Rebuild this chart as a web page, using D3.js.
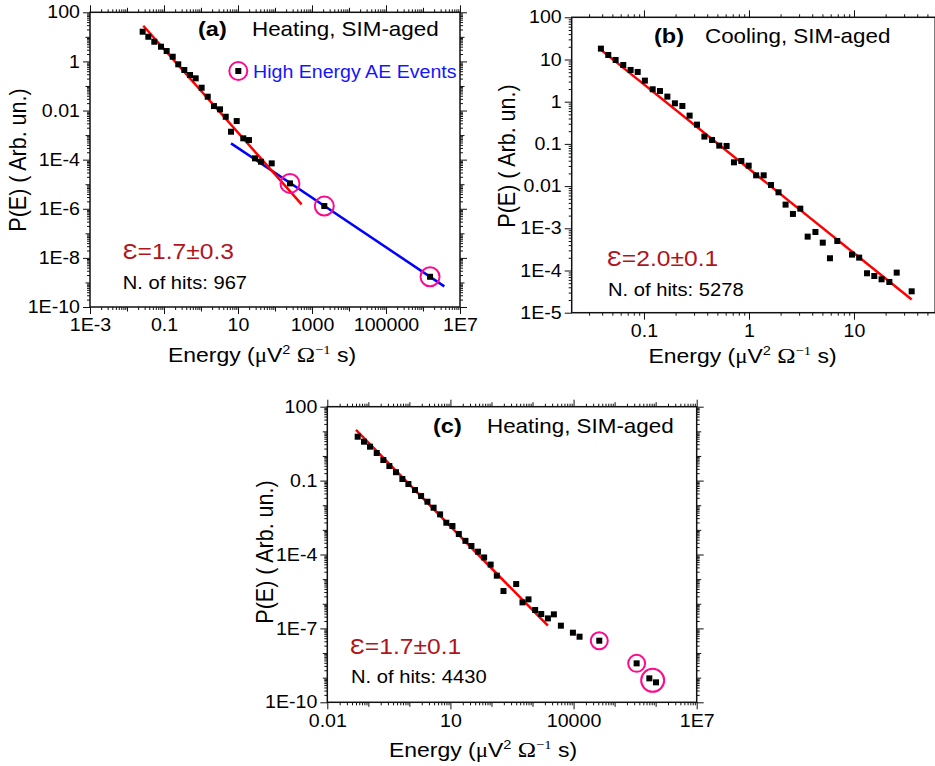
<!DOCTYPE html>
<html>
<head>
<meta charset="utf-8">
<script src="https://cdn.jsdelivr.net/npm/d3@7"></script>
<style>
  html, body { margin: 0; padding: 0; background: #fff; }
  svg { display: block; font-family: "Liberation Sans", Arial, sans-serif; }
</style>
</head>
<body>
<svg id="chart" width="935" height="766"></svg>
<script>
// ---------- Panel (a): heating, SIM-aged ----------
const energyA = [0.0265, 0.0377, 0.0547, 0.0830, 0.118, 0.172, 0.243, 0.354, 0.505, 0.719,
  1.04, 1.52, 2.24, 3.27, 4.66, 6.47, 9.23, 13.9, 19.8, 28.8, 41.9, 81.5];
const probA = [16.2, 10.1, 6.34, 3.97, 2.65, 1.55, 0.762, 0.447, 0.279, 0.205,
  0.0849, 0.0365, 0.0152, 0.0112, 0.00558, 0.00137, 0.00373, 0.000738, 0.000628, 0.000113, 0.0000822, 0.0000706];
const highEnergyA = [254, 2150, 1.55e6];
const highProbA = [1.08e-5, 1.29e-6, 1.70e-9];
const fitA = { exponent: 1.7, error: 0.3, amplitude: 0.0635, eMin: 0.0276, eMax: 524 };
const fitHighA = { exponent: 1.01, amplitude: 0.00304, eMin: 6.47, eMax: 3.77e6 };
const hitsA = 967;

// ---------- Panel (b): cooling, SIM-aged ----------
const energyB = [0.0389, 0.0457, 0.0537, 0.0635, 0.0746, 0.0871, 0.102, 0.121, 0.142, 0.167,
  0.197, 0.232, 0.272, 0.320, 0.376, 0.445, 0.521, 0.612, 0.719, 0.845,
  0.993, 1.17, 1.38, 1.62, 1.91, 2.23, 2.62, 3.08, 3.62, 4.29,
  5.04, 5.90, 6.93, 9.57, 11.2, 13.3, 15.6, 18.3, 21.7, 25.5, 35.4];
const probB = [18.1, 12.8, 9.75, 7.41, 5.65, 5.07, 3.16, 1.97, 1.79, 1.32,
  0.916, 0.792, 0.468, 0.286, 0.149, 0.124, 0.0910, 0.0893, 0.0366, 0.0394,
  0.0305, 0.0180, 0.0180, 0.0106, 0.00713, 0.00364, 0.00219, 0.00292, 0.000635, 0.000818,
  0.000457, 0.000195, 0.000501, 0.000238, 0.000202, 0.0000859, 0.0000741, 0.0000618, 0.0000535, 0.0000891, 0.0000321];
const fitB = { exponent: 2.0, error: 0.1, amplitude: 0.0257, eMin: 0.0395, eMax: 35.4 };
const hitsB = 5278;

// ---------- Panel (c): heating, SIM-aged ----------
const energyC = [0.0550, 0.0783, 0.110, 0.160, 0.232, 0.325, 0.471, 0.675, 0.946, 1.37,
  1.93, 2.75, 3.89, 5.60, 7.94, 11.2, 16.0, 23.2, 32.5, 46.8,
  66.2, 95.5, 135, 196, 400, 570, 798, 1160, 1630, 2370, 3310, 4910, 9640, 14000];
const probC = [6.05, 3.79, 2.38, 1.32, 0.684, 0.390, 0.219, 0.116, 0.0726, 0.0414,
  0.0236, 0.0139, 0.00794, 0.00426, 0.00195, 0.00143, 0.000678, 0.000358, 0.000221, 0.000130,
  0.0000759, 0.0000389, 0.0000138, 3.29e-6, 6.32e-6, 1.14e-6, 1.51e-6, 5.57e-7, 3.83e-7, 2.55e-7,
  3.72e-7, 1.29e-7, 6.70e-8, 4.60e-8];
const highEnergyC = [42300, 344000, 701000, 1.02e6];
const highProbC = [3.17e-8, 3.81e-9, 9.38e-10, 6.46e-10];
const circleGroupsC = [[0], [1], [2, 3]];
const fitC = { exponent: 1.7, error: 0.1, amplitude: 0.0698, eMin: 0.05, eMax: 2366 };
const hitsC = 4430;

// ---------- shared styling ----------
const SX = 1.12;                 // horizontal glyph stretch
const TICK_FONT = 17.5;
const DARK_RED = "#b0141c";
const PINK = "#ff0a8c";
const SERIF = "'Liberation Serif', 'Times New Roman', serif";

const svg = d3.select("#chart");

function addText(g, x, y, str, o = {}) {
  return g.append("text")
    .attr("transform", `translate(${x},${y}) scale(${o.k ?? SX},1)`)
    .attr("font-size", o.size || 18)
    .attr("font-weight", o.weight || "normal")
    .attr("fill", o.fill || "#000")
    .attr("text-anchor", o.anchor || "start")
    .text(str);
}

function tickLabel(v) {
  const e = Math.round(Math.log10(v));
  if (e <= -3 || e >= 6) return "1E" + e;
  return String(Math.pow(10, e));
}

function decades(s) {
  const [a, b] = s.domain();
  return d3.range(Math.ceil(Math.log10(a) - 1e-9), Math.floor(Math.log10(b) + 1e-9) + 1);
}
function minorValues(s) {
  const [a, b] = s.domain();
  const out = [];
  for (let d = Math.floor(Math.log10(a)); d <= Math.floor(Math.log10(b)); d++) {
    for (let m = 2; m <= 9; m++) {
      const v = m * Math.pow(10, d);
      if (v > a * 1.0001 && v < b * 0.9999) out.push(v);
    }
  }
  return out;
}

function drawAxes(g, x, y, w, h, xStep, yStep) {
  const xd = decades(x), yd = decades(y);
  const pick = (ds, step, lab) => ds.filter(d => ((d - ds[0]) % step === 0) === lab).map(d => Math.pow(10, d));
  const sides = [
    { make: d3.axisBottom, s: x, t: `translate(0,${h})`, labels: true, step: xStep, ds: xd, pad: 5 },
    { make: d3.axisTop, s: x, t: "translate(0,0)", labels: false, step: xStep, ds: xd, pad: 3 },
    { make: d3.axisLeft, s: y, t: "translate(0,0)", labels: true, step: yStep, ds: yd, pad: 3 },
    { make: d3.axisRight, s: y, t: `translate(${w},0)`, labels: false, step: yStep, ds: yd, pad: 3 }
  ];
  sides.forEach(sd => {
    const layers = [
      { vals: minorValues(sd.s), size: 3, fmt: false },
      { vals: pick(sd.ds, sd.step, false), size: 4.5, fmt: false },
      { vals: pick(sd.ds, sd.step, true), size: 7, fmt: sd.labels }
    ];
    layers.forEach(L => {
      const ax = sd.make(sd.s).tickValues(L.vals).tickSize(L.size).tickPadding(sd.pad)
        .tickFormat(L.fmt ? tickLabel : () => "");
      const ag = g.append("g").attr("transform", sd.t).call(ax);
      ag.select(".domain").remove();
      ag.attr("font-family", null).attr("font-size", TICK_FONT);
      ag.selectAll(".tick line").attr("stroke", "#111").attr("stroke-width", 1);
      ag.selectAll(".tick text").attr("fill", "#000").each(function () {
        const s = d3.select(this);
        const tx = +s.attr("x") || 0, ty = +s.attr("y") || 0;
        s.attr("x", null).attr("y", null).attr("transform", `translate(${tx},${ty}) scale(${SX},1)`);
      });
    });
  });
  g.append("rect").attr("width", w).attr("height", h)
    .attr("fill", "none").attr("stroke", "#111").attr("stroke-width", 1.5);
}

function xTitle(cx, y) {
  const t = svg.append("text")
    .attr("transform", `translate(${cx},${y}) scale(${SX},1)`)
    .attr("text-anchor", "middle").attr("font-size", 20.5).attr("fill", "#000");
  t.append("tspan").text("Energy (");
  t.append("tspan").attr("font-family", SERIF).text("μ");
  t.append("tspan").text("V");
  t.append("tspan").attr("font-size", 13).attr("dy", -8).text("2");
  t.append("tspan").attr("dy", 8).text(" ");
  t.append("tspan").attr("font-family", SERIF).attr("font-size", 22).text("Ω");
  t.append("tspan").attr("font-family", SERIF).attr("font-size", 13).attr("dy", -8).text("−1");
  t.append("tspan").attr("dy", 8).text(" s)");
}

function yTitle(x, cy) {
  svg.append("text")
    .attr("transform", `translate(${x},${cy}) rotate(-90) scale(1,${SX})`)
    .attr("text-anchor", "middle").attr("font-size", 21.5).attr("fill", "#000")
    .text("P(E) ( Arb. un.)");
}

function squares(g, x, y, es, ps) {
  g.selectAll(null).data(es.map((e, i) => [e, ps[i]])).join("rect")
    .attr("x", d => x(d[0]) - 3).attr("y", d => y(d[1]) - 3)
    .attr("width", 6).attr("height", 6).attr("fill", "#000");
}

function fitLine(g, x, y, fit, color) {
  const line = d3.line().x(d => x(d)).y(d => y(fit.amplitude * Math.pow(d, -fit.exponent)));
  g.append("path").attr("d", line([fit.eMin, fit.eMax]))
    .attr("fill", "none").attr("stroke", color).attr("stroke-width", 2.5);
}

function ring(g, cx, cy, r) {
  g.append("circle").attr("cx", cx).attr("cy", cy).attr("r", r)
    .attr("fill", "none").attr("stroke", PINK).attr("stroke-width", 2);
}

function epsilonLabel(x, y, fit) {
  addText(svg, x, y, `Ɛ=${fit.exponent.toFixed(1)}±${fit.error.toFixed(1)}`, { size: 22, fill: DARK_RED });
}

// ================= Panel (a) =================
{
  const L = 90, T = 12.3, W = 370, H = 294.7;
  const x = d3.scaleLog().domain([1e-3, 1e7]).range([0, W]);
  const y = d3.scaleLog().domain([1e-10, 100]).range([H, 0]);
  const g = svg.append("g").attr("transform", `translate(${L},${T})`);
  drawAxes(g, x, y, W, H, 2, 2);
  fitLine(g, x, y, fitHighA, "#0000ff");
  fitLine(g, x, y, fitA, "#ff0000");
  squares(g, x, y, energyA, probA);
  squares(g, x, y, highEnergyA, highProbA);
  highEnergyA.forEach((e, i) => ring(g, x(e), y(highProbA[i]), 9.5));

  addText(svg, 198, 36, "(a)", { size: 21, weight: "bold" });
  addText(svg, 252, 36, "Heating, SIM-aged", { size: 20 });
  // legend marker
  ring(svg, 238.3, 71, 9);
  svg.append("rect").attr("x", 235.3).attr("y", 68).attr("width", 6).attr("height", 6).attr("fill", "#000");
  addText(svg, 253, 77.5, "High Energy AE Events", { size: 17.5, fill: "#1414ff" });
  epsilonLabel(122.7, 259.3, fitA);
  addText(svg, 122.7, 289.3, `N. of hits: ${hitsA}`, { size: 18 });
  xTitle(262, 362);
  yTitle(26, 160);
}

// ================= Panel (b) =================
{
  const L = 571.7, T = 17.3, W = 363.5, H = 295.4;
  const x = d3.scaleLog().domain([0.0205, 59.3]).range([0, W]);
  const y = d3.scaleLog().domain([1e-5, 100]).range([H, 0]);
  const g = svg.append("g").attr("transform", `translate(${L},${T})`);
  drawAxes(g, x, y, W, H, 1, 1);
  fitLine(g, x, y, fitB, "#ff0000");
  squares(g, x, y, energyB, probB);

  addText(svg, 654, 42.7, "(b)", { size: 21, weight: "bold" });
  addText(svg, 705, 42.7, "Cooling, SIM-aged", { size: 20 });
  epsilonLabel(607, 265.7, fitB);
  addText(svg, 608, 296, `N. of hits: ${hitsB}`, { size: 18 });
  xTitle(742.5, 362.5);
  yTitle(515, 156);
}

// ================= Panel (c) =================
{
  const L = 327.3, T = 406.7, W = 369.4, H = 295.6;
  const x = d3.scaleLog().domain([0.01, 1e7]).range([0, W]);
  const y = d3.scaleLog().domain([1e-10, 100]).range([H, 0]);
  const g = svg.append("g").attr("transform", `translate(${L},${T})`);
  drawAxes(g, x, y, W, H, 3, 3);
  fitLine(g, x, y, fitC, "#ff0000");
  squares(g, x, y, energyC, probC);
  squares(g, x, y, highEnergyC, highProbC);
  const radii = [8.5, 8.5, 11.5];
  circleGroupsC.forEach((grp, k) => {
    const cx = d3.mean(grp, i => x(highEnergyC[i]));
    const cy = d3.mean(grp, i => y(highProbC[i]));
    ring(g, cx, cy, radii[k]);
  });

  addText(svg, 433, 433.3, "(c)", { size: 21, weight: "bold" });
  addText(svg, 487, 433.3, "Heating, SIM-aged", { size: 20 });
  epsilonLabel(350, 654.3, fitC);
  addText(svg, 351, 683.3, `N. of hits: ${hitsC}`, { size: 18 });
  xTitle(483, 757);
  yTitle(273, 552);
}
</script>
</body>
</html>
